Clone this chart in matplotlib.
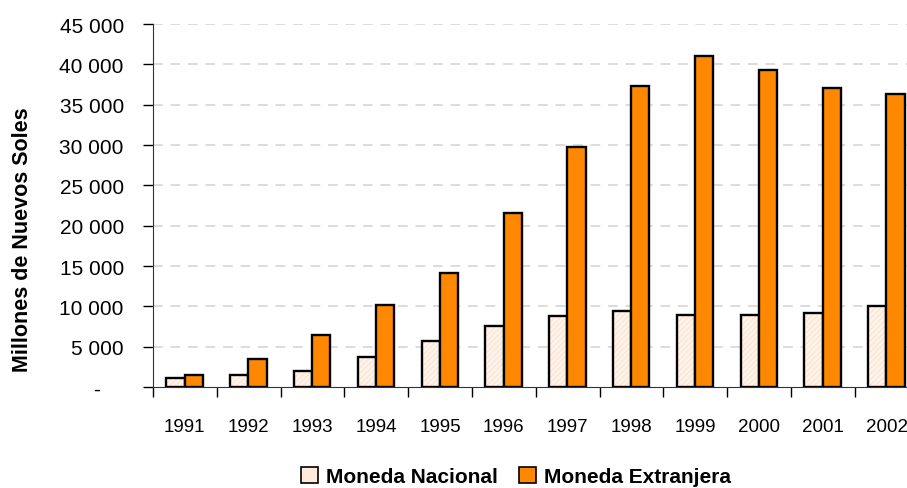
import matplotlib
matplotlib.use("Agg")
import matplotlib.pyplot as plt
from matplotlib.ticker import FuncFormatter, FixedLocator
from matplotlib.patches import Patch
import numpy as np

# data (millones de nuevos soles)
years = ['1991', '1992', '1993', '1994', '1995', '1996',
         '1997', '1998', '1999', '2000', '2001', '2002']
moneda_nacional = [1080, 1530, 2020, 3760, 5740, 7570,
                   8770, 9470, 8970, 8970, 9220, 10010]
moneda_extranjera = [1530, 3510, 6490, 10210, 14140, 21630,
                     29810, 37260, 40980, 39240, 37010, 36270]

plt.rcParams['font.family'] = ['Liberation Sans Narrow', 'Liberation Sans', 'DejaVu Sans']

fig = plt.figure(figsize=(9.07, 4.89), dpi=100)
ax = fig.add_axes([0.1686, 0.2065, 0.8441, 0.7423])

x = np.arange(len(years))
w = 0.285
light = '#FEF3EA'
hatch_col = '#FADCC2'
orange = '#FF8800'

# light bars: hatched fill, then black outline on top
plt.rcParams['hatch.linewidth'] = 0.5
ax.bar(x - 0.145, moneda_nacional, w, color=light, edgecolor=hatch_col,
       hatch='//////', linewidth=0, zorder=3)
ax.bar(x - 0.145, moneda_nacional, w, fill=False, edgecolor='black',
       linewidth=1.7, zorder=4)
ax.bar(x + 0.14, moneda_extranjera, w, color=orange, edgecolor='black',
       linewidth=1.7, zorder=4)

ax.set_xlim(-0.5, len(years) - 0.5)
ax.set_ylim(0, 45000)
ax.set_yticks(range(0, 45001, 5000))

def miles(v, pos):
    if v == 0:
        return '-\u2007\u2007'
    return f"{int(v):,}".replace(',', ' ')

ax.yaxis.set_major_formatter(FuncFormatter(miles))
ax.set_xticks(x)
ax.set_xticklabels(years)
ax.xaxis.set_minor_locator(FixedLocator(np.arange(-0.5, len(years), 1.0)))
ax.tick_params(axis='x', which='major', length=0, pad=22, labelsize=13.5)
ax.tick_params(axis='x', which='minor', length=7, width=1, direction='out')
ax.tick_params(axis='y', length=7, width=1, direction='out', labelsize=15, pad=14)

for y in range(5000, 45001, 5000):
    ax.axhline(y, color='#DCDCDC', linewidth=1.4, linestyle=(0, (5, 4)), zorder=1)

ax.spines['top'].set_visible(False)
ax.spines['right'].set_visible(False)
ax.spines['left'].set_color('#333333')
ax.spines['bottom'].set_color('#333333')

fig.text(0.025, 0.509, 'Millones de Nuevos Soles', rotation=90, ha='center',
         va='center', fontsize=15.5, fontweight='bold')

handles = [Patch(facecolor='#FDEADB', edgecolor='black', linewidth=1.2),
           Patch(facecolor=orange, edgecolor='black', linewidth=1.2)]
fig.legend(handles, ['Moneda Nacional', 'Moneda Extranjera'], loc='center',
           bbox_to_anchor=(0.569, 0.024), ncol=2, frameon=False,
           prop={'weight': 'bold', 'size': 15}, handlelength=0.8,
           handleheight=0.8, handletextpad=0.4, columnspacing=1.0)

fig.savefig('out.png', dpi=100)
